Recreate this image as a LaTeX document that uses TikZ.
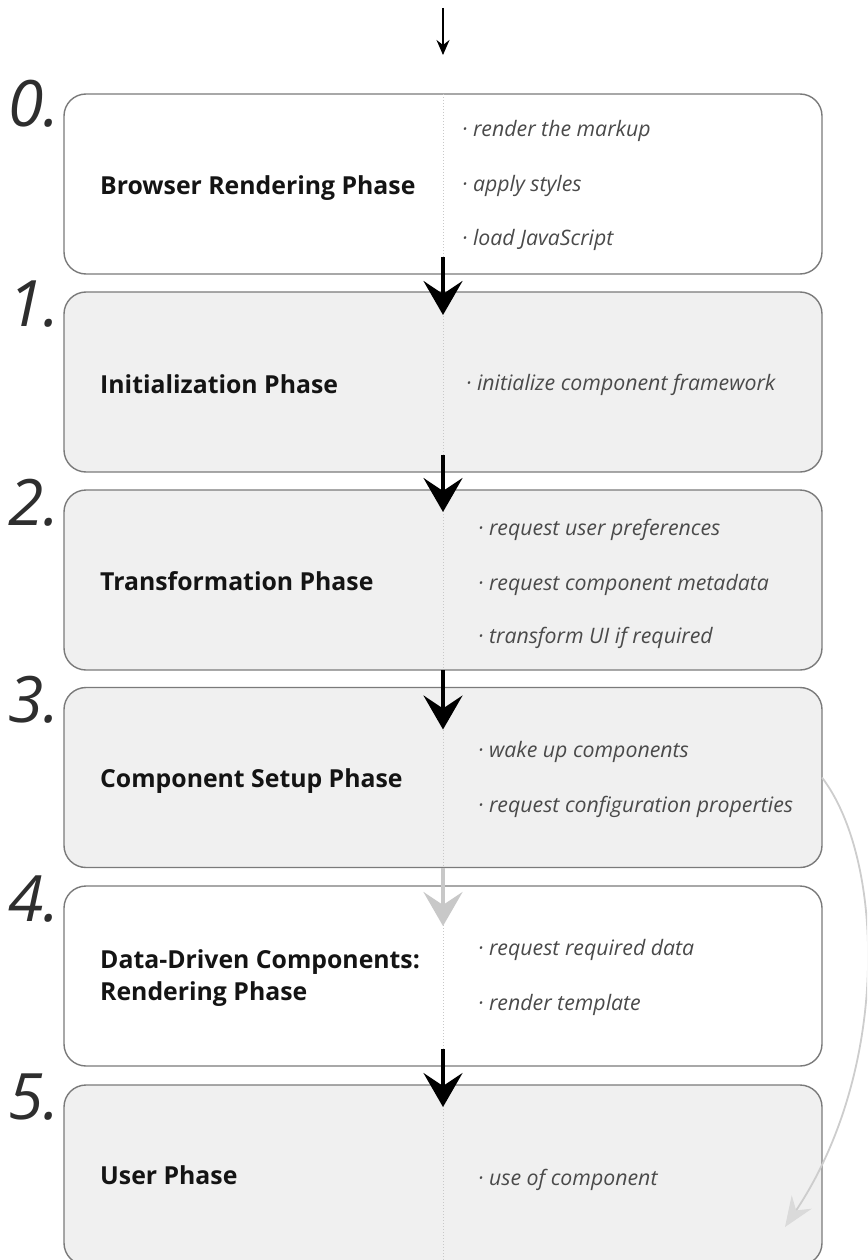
\documentclass[tikz,border=0pt]{standalone}
\usepackage{fontspec}
\setmainfont{Open Sans}
\usetikzlibrary{arrows.meta}
\definecolor{boxfill}{HTML}{F0F0F0}
\definecolor{boxline}{HTML}{7A7A7A}
\definecolor{divline}{HTML}{C8C8C8}
\definecolor{bullettext}{HTML}{4A4A4A}
\definecolor{numtext}{HTML}{2E2E2E}
\definecolor{paleline}{HTML}{CDCDCD}
\definecolor{palehead}{HTML}{DADADA}
\definecolor{grayarrow}{HTML}{C8C8C8}
\begin{document}
\begin{tikzpicture}[x=1pt,y=-1pt,
  phasebox/.style={draw=boxline, line width=1.4pt, rounded corners=22pt,
    minimum width=758pt, minimum height=180pt, inner sep=0pt, outer sep=0pt},
  phaselabel/.style={anchor=base west, inner sep=0pt, align=left,
    font=\bfseries\fontsize{24.8}{32}\selectfont, text=black!92},
  bulletitem/.style={anchor=base west, inner sep=0pt,
    font=\itshape\fontsize{21.3}{24}\selectfont, text=bullettext},
  phasenum/.style={anchor=base west, inner sep=0pt,
    font=\itshape\fontsize{64}{64}\selectfont, text=numtext},
  divider/.style={draw=divline, line width=1pt, dotted},
  bigarrow/.style={draw=black, line width=4pt, -{Stealth[length=34pt,width=39pt,inset=13pt]}},
  palearrow/.style={draw=grayarrow, line width=4pt, -{Stealth[length=34pt,width=39pt,inset=13pt]}},
  smallarrow/.style={draw=black, line width=1.3pt, -{Stealth[length=15pt,width=13pt,inset=5pt]}},
  curvearrow/.style={draw=paleline, line width=1.8pt, -{Stealth[length=30pt,width=24pt,inset=10pt,color=palehead,fill=palehead]}}
]
\useasboundingbox (0,0) rectangle (867,1260);
\clip (0,0) rectangle (867,1260);

% boxes
\node[phasebox, fill=white]   (b0) at (443,184) {};
\node[phasebox, fill=boxfill] (b1) at (443,382) {};
\node[phasebox, fill=boxfill] (b2) at (443,580) {};
\node[phasebox, fill=boxfill] (b3) at (443,777.5) {};
\node[phasebox, fill=white]   (b4) at (443,976) {};
\node[phasebox, fill=boxfill] (b5) at (443,1175) {};

% dividers
\foreach \b in {b0,b1,b2,b3,b4,b5}{
  \draw[divider] (\b.north) -- (\b.south);
}

% numbers
\node[phasenum] (n0) at (8,127) {0.};
\node[phasenum] (n1) at (8,326) {1.};
\node[phasenum] (n2) at (8,525) {2.};
\node[phasenum] (n3) at (8,722) {3.};
\node[phasenum] (n4) at (8,921) {4.};
\node[phasenum] (n5) at (8,1119) {5.};

% labels
\node[phaselabel] (l0) at (100,195) {Browser Rendering Phase};
\node[phaselabel] (l1) at (100,393) {Initialization Phase};
\node[phaselabel] (l2) at (100,590) {Transformation Phase};
\node[phaselabel] (l3) at (100,787) {Component Setup Phase};
\node[phaselabel] (l4a) at (100,968) {Data-Driven Components:};
\node[phaselabel] (l4b) at (100,1000) {Rendering Phase};
\node[phaselabel] (l5) at (100,1184) {User Phase};

% bullets
\node[bulletitem] (t0a) at (462,137) {· render the markup};
\node[bulletitem] (t0b) at (462,192) {· apply styles};
\node[bulletitem] (t0c) at (462,245) {· load JavaScript};
\node[bulletitem] (t1a) at (466,390) {· initialize component framework};
\node[bulletitem] (t2a) at (478,535) {· request user preferences};
\node[bulletitem] (t2b) at (478,590) {· request component metadata};
\node[bulletitem] (t2c) at (478,643) {· transform UI if required};
\node[bulletitem] (t3a) at (478,757) {· wake up components};
\node[bulletitem] (t3b) at (478,812) {· request configuration properties};
\node[bulletitem] (t4a) at (478,955) {· request required data};
\node[bulletitem] (t4b) at (478,1010) {· render template};
\node[bulletitem] (t5a) at (478,1185) {· use of component};

% arrows
\coordinate (entry) at (443,8);
\draw[smallarrow] (entry) -- ([yshift=39pt]b0.north);
\draw[bigarrow] ([yshift=17pt]b0.south) -- ([yshift=-23pt]b1.north);
\draw[bigarrow] ([yshift=17pt]b1.south) -- ([yshift=-22pt]b2.north);
\draw[bigarrow] (b2.south) -- ([yshift=-42pt]b3.north);
\draw[palearrow] (b3.south) -- ([yshift=-40pt]b4.north);
\draw[bigarrow] ([yshift=17pt]b4.south) -- ([yshift=-22pt]b5.north);
\draw[curvearrow] (b3.east) .. controls (885,860) and (890,1070) .. ([xshift=-37pt,yshift=-52pt]b5.east);
\end{tikzpicture}
\end{document}
